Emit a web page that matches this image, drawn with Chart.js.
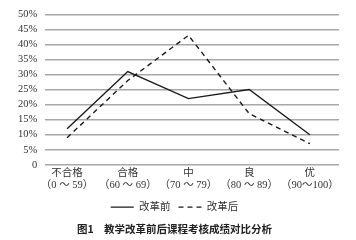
<!DOCTYPE html>
<html>
<head>
<meta charset="utf-8">
<script src="https://cdn.jsdelivr.net/npm/chart.js@4"></script>
<style>
  html, body { margin: 0; padding: 0; background: #fff; }
  #wrap { width: 356px; height: 240px; }
</style>
</head>
<body>
<div id="wrap"><canvas id="chart"></canvas></div>
<script>
const categories = [
    ['不合格', '（0 ～ 59）'],
    ['合格', '（60 ～ 69）'],
    ['中', '（70 ～ 79）'],
    ['良', '（80 ～ 89）'],
    ['优', '（90～100）']
];
const before = [12, 31, 22, 25, 10];
const after = [9, 28, 43, 17, 7];
const yTicks = [0, 5, 10, 15, 20, 25, 30, 35, 40, 45, 50];

const serif = "'Liberation Serif', 'Noto Sans CJK SC', serif";
const textColor = '#333333';
const gridColor = '#a8a8a8';
const lineColor = '#1a1a1a';

function points(values) {
    return values.map((v, i) => ({ x: i, y: v }));
}

new Chart(document.getElementById('chart'), {
    type: 'line',
    data: {
        datasets: [{
            label: '改革前',
            data: points(before),
            borderColor: lineColor,
            borderWidth: 1.4,
            pointRadius: 0,
            tension: 0
        }, {
            label: '改革后',
            data: points(after),
            borderColor: lineColor,
            borderWidth: 1.4,
            borderDash: [5, 4],
            pointRadius: 0,
            tension: 0
        }]
    },
    options: {
        responsive: true,
        maintainAspectRatio: false,
        animation: false,
        layout: {
            padding: { top: 11, right: 17, left: 10, bottom: 5 }
        },
        scales: {
            x: {
                type: 'linear',
                min: -0.36,
                max: 4.48,
                afterBuildTicks: function (scale) {
                    scale.ticks = categories.map((c, i) => ({ value: i }));
                },
                ticks: {
                    autoSkip: false,
                    maxRotation: 0,
                    padding: 3,
                    color: textColor,
                    font: { family: serif, size: 10.5, lineHeight: 1.1 },
                    callback: function (value) {
                        return categories[value];
                    }
                },
                grid: { display: false, drawTicks: false },
                border: { display: false }
            },
            y: {
                min: 0,
                max: 50,
                afterBuildTicks: function (scale) {
                    scale.ticks = yTicks.map(v => ({ value: v }));
                },
                ticks: {
                    autoSkip: false,
                    padding: 8,
                    color: textColor,
                    font: { family: serif, size: 10.5 },
                    callback: function (value) {
                        return value === 0 ? '0' : value + '%';
                    }
                },
                grid: {
                    color: gridColor,
                    lineWidth: 1.5,
                    drawTicks: false
                },
                border: { display: false }
            }
        },
        plugins: {
            legend: {
                position: 'bottom',
                labels: {
                    usePointStyle: true,
                    pointStyle: 'line',
                    pointStyleWidth: 23,
                    boxWidth: 23,
                    padding: 8,
                    color: textColor,
                    font: { family: serif, size: 10.5 },
                    generateLabels: function (chart) {
                        const items = Chart.defaults.plugins.legend.labels.generateLabels(chart);
                        items.forEach(item => {
                            const ds = chart.data.datasets[item.datasetIndex];
                            item.lineDash = ds.borderDash || [];
                            item.lineWidth = ds.borderWidth;
                        });
                        return items;
                    }
                }
            },
            title: {
                display: true,
                position: 'bottom',
                text: '图1　教学改革前后课程考核成绩对比分析',
                color: '#222222',
                padding: { top: 0, bottom: 0 },
                font: { family: "'Noto Sans CJK SC', sans-serif", size: 10.5, weight: 'bold' }
            },
            tooltip: { enabled: false }
        }
    }
});
</script>
</body>
</html>
